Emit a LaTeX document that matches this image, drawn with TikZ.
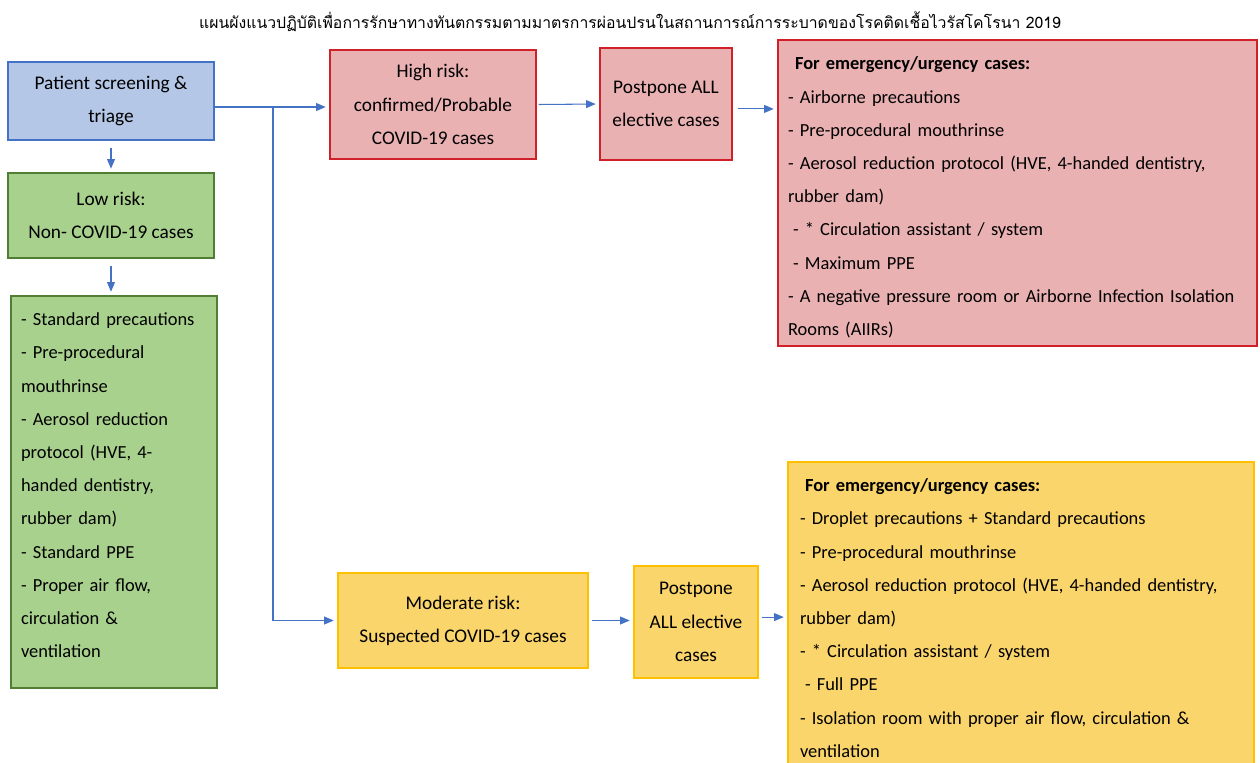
\documentclass[tikz,border=0pt]{standalone}
\usepackage{fontspec}
\setmainfont{Carlito}
\newfontfamily\thaifont[Script=Thai]{Loma}
\usetikzlibrary{arrows.meta}
\definecolor{arrblue}{HTML}{4472C4}
\definecolor{bluefill}{HTML}{B4C7E7}
\definecolor{blueline}{HTML}{4472C4}
\definecolor{greenfill}{HTML}{A9D18E}
\definecolor{greenline}{HTML}{507E32}
\definecolor{redfill}{HTML}{EAB1B3}
\definecolor{redline}{HTML}{D0202A}
\definecolor{yellowfill}{HTML}{FAD56C}
\definecolor{yellowline}{HTML}{FFC000}

\begin{document}
\begin{tikzpicture}[x=0.02cm,y=-0.02cm,
  box/.style={draw,line width=0.9pt,inner sep=0pt,align=center,
    font=\fontsize{11}{18.9}\selectfont},
  listbox/.style={box,align=left,font=\fontsize{10.5}{18.9}\selectfont},
  arr/.style={draw=arrblue,line width=0.6pt,
    -{Triangle[length=5.5pt,width=4.5pt]},shorten >=2pt}]
\useasboundingbox (0,0) rectangle (1260,762);
\clip (0,0) rectangle (1260,762);

\node (title) at (630,22) {\thaifont\fontsize{9}{11}\selectfont แผนผังแนวปฏิบัติเพื่อการรักษาทางทันตกรรมตามมาตรการผ่อนปรนในสถานการณ์การระบาดของโรคติดเชื้อไวรัสโคโรนา 2019};

% screening and low risk
\node[box,fill=bluefill,draw=blueline,minimum width=4.12cm,minimum height=1.56cm] (triage) at (111,101) {Patient screening \&\\triage};
\node[box,fill=greenfill,draw=greenline,minimum width=4.12cm,minimum height=1.70cm] (low) at (111,215.5) {Low risk:\\Non- COVID-19 cases};
\node[listbox,fill=greenfill,draw=greenline,text width=3.72cm,minimum width=4.12cm,minimum height=7.84cm] (lowlist) at (114,492) {- Standard precautions\\- Pre-procedural\\mouthrinse\\- Aerosol reduction\\protocol (HVE, 4-\\handed dentistry,\\rubber dam)\\- Standard PPE\\- Proper air flow,\\circulation \&\\ventilation\rule[-7.6pt]{0pt}{7.6pt}};

% high risk
\node[box,fill=redfill,draw=redline,minimum width=4.12cm,minimum height=2.18cm] (high) at (433,104.5) {High risk:\\confirmed/Probable\\COVID-19 cases};
\node[box,fill=redfill,draw=redline,minimum width=2.64cm,minimum height=2.24cm] (posthigh) at (666,104) {Postpone ALL\\elective cases};
\node[listbox,fill=redfill,draw=redline,text width=9.18cm,minimum width=9.58cm,minimum height=6.12cm] (highlist) at (1017.5,193) {\rule{0pt}{12.4pt}\textbf{\hspace*{0.14cm}For emergency/urgency cases:}\\- Airborne precautions\\- Pre-procedural mouthrinse\\- Aerosol reduction protocol (HVE, 4-handed dentistry,\\rubber dam)\\\hspace*{0.1cm}- * Circulation assistant / system\\\hspace*{0.1cm}- Maximum PPE\\- A negative pressure room or Airborne Infection Isolation\\Rooms (AIIRs)};

% moderate risk
\node[box,fill=yellowfill,draw=yellowline,minimum width=5.0cm,minimum height=1.90cm] (moderate) at (463,620.5) {Moderate risk:\\Suspected COVID-19 cases};
\node[box,fill=yellowfill,draw=yellowline,minimum width=2.48cm,minimum height=2.24cm] (postmod) at (696,622) {Postpone\\ALL elective\\cases};
\node[listbox,fill=yellowfill,draw=yellowline,text width=8.84cm,minimum width=9.32cm,minimum height=6.24cm] (modlist) at (1021,618) {\textbf{\hspace*{0.1cm}For emergency/urgency cases:}\\- Droplet precautions + Standard precautions\\- Pre-procedural mouthrinse\\- Aerosol reduction protocol (HVE, 4-handed dentistry,\\rubber dam)\\- * Circulation assistant / system\\\hspace*{0.1cm}- Full PPE\\- Isolation room with proper air flow, circulation \&\\ventilation};

\coordinate (fork) at (273,107);
\draw[arr,shorten <=4pt] (triage.south) -- (low.north);
\draw[arr,shorten <=4pt] (low.south) -- (low.south |- lowlist.north);
\draw[arr] (triage.east |- fork) -- (high.west |- fork);
\draw[arr] (fork) |- (moderate.west);
\draw[arr,shorten <=1pt] (high.east) -- (posthigh.west);
\draw[arr,shorten <=3pt] ([yshift=-2.8pt]posthigh.east) -- ([yshift=-2.8pt]posthigh.east -| highlist.west);
\draw[arr,shorten <=2pt] (moderate.east) -- (moderate.east -| postmod.west);
\draw[arr,shorten <=2pt] ([yshift=2.8pt]postmod.east) -- ([yshift=2.8pt]postmod.east -| modlist.west);
\end{tikzpicture}
\end{document}
